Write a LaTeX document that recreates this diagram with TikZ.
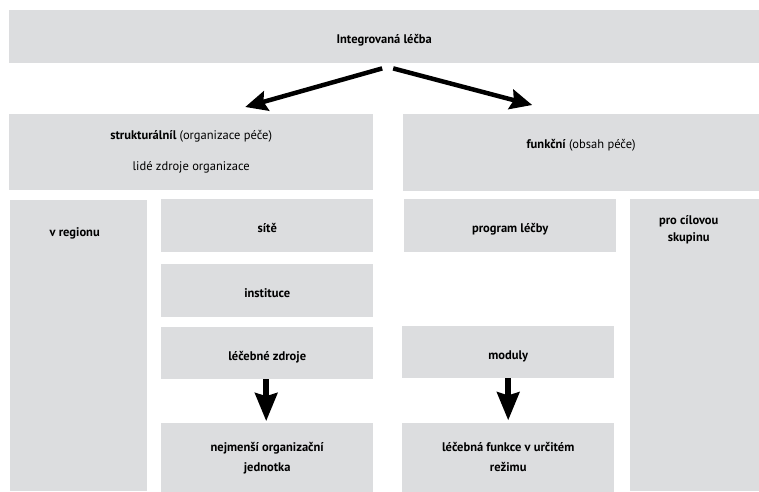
\documentclass[tikz,border=0pt]{standalone}
\usepackage{fontspec}
\setmainfont{PT Sans}
\usepackage{tikz}
\usetikzlibrary{arrows.meta}
\usetikzlibrary{positioning}
\definecolor{boxgray}{RGB}{220,221,223}
\tikzset{
	x=1pt, y=-1pt,
	box/.style = {fill=boxgray, inner sep=0pt, anchor=north west, align=center,
		font=\fontsize{12.5}{20}\selectfont\bfseries},
	one/.style = {text height=17pt, text depth=3pt},
	txt/.style = {inner sep=0pt, align=center, font=\fontsize{12.5}{17}\selectfont\bfseries},
	fat/.style = {line width=4.5pt, -{Stealth[length=22pt, width=20pt, inset=3pt]}},
	drop/.style = {line width=6pt, -{Stealth[length=28pt, width=22pt, inset=3pt]}}
}

\begin{document}
\begin{tikzpicture}
	\useasboundingbox (0,0) rectangle (759,491);
	\node[box, one, minimum width=750pt, minimum height=53pt] (top) at (9,10) {Integrovaná léčba};
	\node[box, minimum width=364pt, minimum height=76pt] (struct) at (9,114)
		{strukturálníl \mdseries(organizace péče)\\[11pt]\mdseries lidé zdroje organizace};
	\node[box, minimum width=356pt, minimum height=77pt, text height=9pt, text depth=17pt] (func) at (403,114)
		{funkční \mdseries(obsah péče)};
	% left column
	\node[box, minimum width=137pt, minimum height=291pt] (region) at (10,200) {};
	\node[txt, xshift=-4pt, below=27pt of region.north] (region text) {v regionu};
	\node[box, one, minimum width=212pt, minimum height=53pt] (site) at (161,199) {sítě};
	\node[box, one, minimum width=212pt, minimum height=53pt, below=11pt of site] (inst) {instituce};
	\node[box, one, minimum width=212pt, minimum height=52pt, below=10pt of inst] (res) {léčebné zdroje};
	\node[box, minimum width=212pt, minimum height=69pt, below=44pt of res] (unit)
		{nejmenší organizační\\jednotka};
	% right column
	\node[box, one, minimum width=212pt, minimum height=53pt] (prog) at (404,199) {program léčby};
	\node[box, minimum width=129pt, minimum height=292pt] (target) at (630,199) {};
	\node[txt, xshift=-6pt, below=16pt of target.north] (target text) {pro cílovou\\skupinu};
	\node[box, one, minimum width=212pt, minimum height=52pt] (mod) at (402,326) {moduly};
	\node[box, minimum width=212pt, minimum height=69pt, below=44pt of mod] (fn)
		{léčebná funkce v určitém\\režimu};
	% arrows
	\draw[fat] ([shift={(-2pt,-5pt)}]top.south) -- ([shift={(54pt,7pt)}]struct.north);
	\draw[fat] ([shift={(9pt,-5pt)}]top.south) -- ([shift={(-49pt,9pt)}]func.north);
	\draw[drop] ([xshift=-1pt]res.south) -- ([xshift=-1pt,yshift=2pt]unit.north);
	\draw[drop] (mod.south) -- ([yshift=2pt]fn.north);
\end{tikzpicture}
\end{document}
